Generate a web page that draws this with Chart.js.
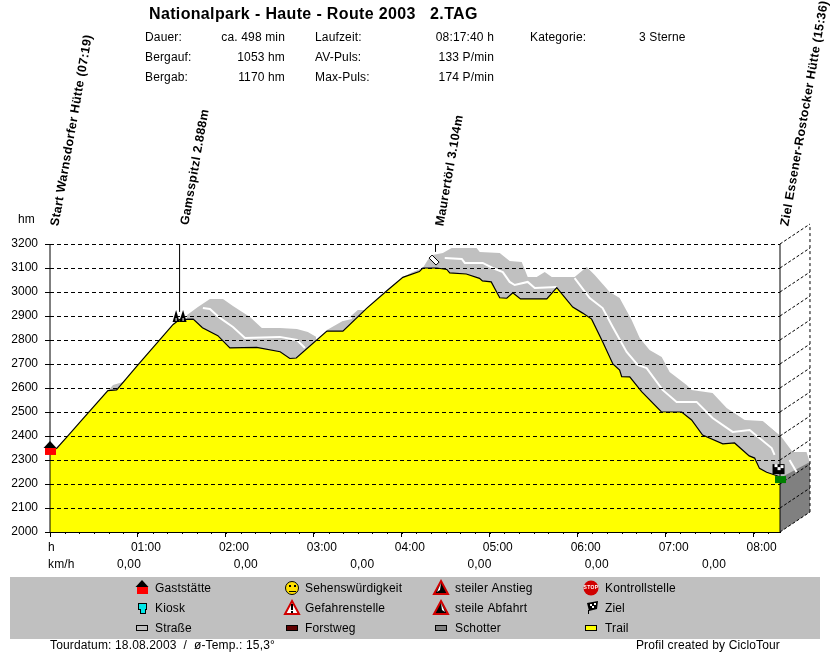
<!DOCTYPE html>
<html>
<head>
<meta charset="utf-8">
<title>Nationalpark - Haute - Route 2003</title>
<style>
  html, body { margin: 0; padding: 0; background: #fff; }
  #wrap { position: absolute; left: 0; top: 0; width: 830px; height: 652px; }
</style>
<script src="https://cdn.jsdelivr.net/npm/chart.js@4/dist/chart.umd.js"></script>
</head>
<body>
<div id="wrap"><canvas id="profil" width="830" height="652"></canvas></div>
<script>
// profile, minutes / hm
var profilMin = [0, 4.8, 11.6, 21.8, 39.5, 45.5, 60, 84, 88.6, 97.7, 104, 114.5, 122.7, 141, 157, 163.6, 168, 188.9, 199.8, 216, 229.8, 240.7, 252, 254.3, 263.9, 270.7, 272.7, 284, 293, 295, 301, 306.8, 311.6, 315.7, 321, 338.9, 345.7, 356.6, 363.4, 369.5, 377, 384, 388.6, 390, 395.5, 403.6, 417, 430.9, 437.7, 445.2, 459, 467, 477, 480.7, 484, 488.9, 498];
var profilHm = [2333, 2350, 2396, 2467, 2589, 2592, 2696, 2865, 2886, 2887, 2851, 2818, 2767, 2769, 2751, 2723, 2725, 2837, 2837, 2932, 3005, 3061, 3085, 3100, 3100, 3094, 3080, 3075, 3057, 3046, 3042, 2976, 2974, 2997, 2971, 2971, 3018, 2937, 2912, 2887, 2793, 2700, 2675, 2647, 2646, 2585, 2501, 2500, 2467, 2404, 2367, 2371, 2317, 2308, 2265, 2249, 2230];

// gravel band, top edge
var schotterA = [[39.5, 2587], [43, 2612], [49.8, 2625]];
var schotterB = [[93.4, 2904], [100.9, 2938], [109.1, 2971], [118, 2971], [124.8, 2942], [136.4, 2896], [144.5, 2850], [156.8, 2850], [168.4, 2846], [175.9, 2833], [182, 2812], [181.4, 2796]];
var schotterC = [[188.9, 2842], [204.5, 2896], [210, 2925], [214.8, 2925], [216, 2932]];
var schotterD = [[240.7, 3062], [247.5, 3083], [254.3, 3100], [257.7, 3133], [261.1, 3154], [268, 3163], [274, 3183], [291, 3183], [293.2, 3167], [306.8, 3163], [313.6, 3129], [321.8, 3125], [325.9, 3063], [332, 3063], [337.5, 3083], [342.3, 3063], [355.9, 3063], [357.9, 3063], [366.1, 3104], [371.6, 3071], [381.8, 3000], [388.6, 2975], [396.8, 2883], [402.3, 2808], [409, 2758], [417.3, 2729], [422.7, 2667], [434.3, 2612], [437.7, 2592], [452, 2579], [461.6, 2517], [473.9, 2467], [486.1, 2462], [499, 2396], [506.6, 2333], [516.1, 2333], [518.2, 2292]];

// white stripes inside the band
var weg1 = [[104.3, 2933], [109.1, 2929], [115.9, 2892], [124.8, 2854], [133, 2808], [156.8, 2813], [168.4, 2800], [173.9, 2767]];
var weg2 = [[199.8, 2883], [205.9, 2892]];
var weg3 = [[269.3, 3142], [280.9, 3138], [283, 3121], [295.2, 3121], [302, 3100], [308.9, 3083], [313.6, 3042], [317, 3029], [325.9, 3042], [330.7, 3017], [345.7, 3021]];
var weg4 = [[357.9, 3058], [368.2, 2975], [377, 2933], [383.9, 2854], [393.4, 2750], [400.9, 2696], [407, 2683], [417.9, 2592], [427.5, 2542], [441.1, 2542], [452, 2475], [465.7, 2417], [477.3, 2425], [492.3, 2350], [494.3, 2321]];
var weg5 = [[504.5, 2300], [509.3, 2250]];

var wandPts = [[498, 2000], [518.45, 2083], [518.45, 2292], [498, 2225]];
var tiefeMin = 20.45, tiefeHm = 83.3;

var yTicks = [2000, 2100, 2200, 2300, 2400, 2500, 2600, 2700, 2800, 2900, 3000, 3100, 3200];
var speedMin = [53.9, 133.6, 213, 293, 373, 453];
var speedVal = ["0,00", "0,00", "0,00", "0,00", "0,00", "0,00"];

var stats = [
  ["Dauer:", "ca. 498 min", "Laufzeit:", "08:17:40 h"],
  ["Bergauf:", "1053 hm", "AV-Puls:", "133 P/min"],
  ["Bergab:", "1170 hm", "Max-Puls:", "174 P/min"]
];

var legendNames = [
  ["Gaststätte", "Sehenswürdigkeit", "steiler Anstieg", "Kontrollstelle"],
  ["Kiosk", "Gefahrenstelle", "steile Abfahrt", "Ziel"],
  ["Straße", "Forstweg", "Schotter", "Trail"]
];

function xy(list) {
  return list.map(function (p) { return { x: p[0], y: p[1] }; });
}

var profilPts = profilMin.map(function (m, i) { return { x: m, y: profilHm[i] }; });

function band(list) {
  return { data: xy(list), borderWidth: 0, pointRadius: 0, backgroundColor: "#c0c0c0", fill: "start", clip: false, order: 9 };
}
function stripe(list) {
  return { data: xy(list), borderColor: "#fff", borderWidth: 2, pointRadius: 0, fill: false, clip: false, order: 6 };
}
function thin(list, dash) {
  return { data: xy(list), borderColor: "#000", borderWidth: 1, borderDash: dash || [], pointRadius: 0, fill: false, clip: false, order: 2 };
}

var datasets = [
  band(schotterA), band(schotterB), band(schotterC), band(schotterD),
  stripe(weg1), stripe(weg2), stripe(weg3), stripe(weg4), stripe(weg5),
  { data: profilPts, borderColor: "#000", borderWidth: 1.2, pointRadius: 0, backgroundColor: "#ffff00", fill: "start", order: 4 },
  thin([[0, 2000], [0, 3200]]),
  thin([[498, 2000], [498, 3200]]),
  thin([[88.4, 2917], [88.4, 3200]]),
  thin([[263, 3167], [263, 3200]]),
  thin([[518.45, 2083], [518.45, 3283.3]], [3, 3])
];
yTicks.forEach(function (t) {
  datasets.push(thin([[498, t], [498 + tiefeMin, t + tiefeHm]], [3, 2]));
});

function text(ctx, s, x, y, font, align, col) {
  ctx.font = font || "12px 'Liberation Sans'";
  ctx.letterSpacing = font ? "0.35px" : "0.15px";
  ctx.textAlign = align || "left";
  ctx.textBaseline = "middle";
  ctx.fillStyle = col || "#000";
  ctx.fillText(s, x, y);
}

function rotText(ctx, s, x, y) {
  ctx.save();
  ctx.translate(x, y);
  ctx.rotate(-80 * Math.PI / 180);
  text(ctx, s, 0, 0, "bold 12.4px 'Liberation Sans'");
  ctx.restore();
}

function poly(ctx, pts, fill, stroke, lw) {
  ctx.beginPath();
  pts.forEach(function (p, i) {
    if (i === 0) ctx.moveTo(p[0], p[1]);
    else ctx.lineTo(p[0], p[1]);
  });
  ctx.closePath();
  if (fill) { ctx.fillStyle = fill; ctx.fill(); }
  if (stroke) { ctx.strokeStyle = stroke; ctx.lineWidth = lw || 1; ctx.stroke(); }
}

function tri(ctx, x, y, fill) {
  poly(ctx, [[x, y - 7], [x + 7, y + 6], [x - 7, y + 6]], fill, "#d00000", 2);
}

function house(ctx, x, y) {
  ctx.fillStyle = "#ff0000";
  ctx.fillRect(x - 5, y - 1, 11, 7);
  poly(ctx, [[x, y - 8], [x + 6.5, y - 1], [x - 6.5, y - 1]], "#000");
}

function flag(ctx, x, y) {
  ctx.fillStyle = "#000";
  ctx.fillRect(x - 6, y - 5, 12, 10);
  ctx.fillStyle = "#fff";
  ctx.fillRect(x - 4, y - 5, 3, 3);
  ctx.fillRect(x + 2, y - 4, 3, 3);
  ctx.fillRect(x - 1, y - 2, 3, 3);
}

function swatch(ctx, x, y, col) {
  ctx.fillStyle = col;
  ctx.strokeStyle = "#000";
  ctx.lineWidth = 1;
  ctx.fillRect(x - 5.5, y - 2.5, 11, 5);
  ctx.strokeRect(x - 5.5, y - 2.5, 11, 5);
}

// the depth wall and the end of the band lie outside the chart area
var aussen = {
  id: "aussen",
  beforeDatasetsDraw: function (chart) {
    var ctx = chart.ctx, sx = chart.scales.x, sy = chart.scales.y;
    function px(p) { return [sx.getPixelForValue(p[0]), sy.getPixelForValue(p[1])]; }
    ctx.save();
    var ende = schotterD.slice(-5);
    var rand = [[ende[0][0], 2000]].concat(ende, [[518.2, 2083], [498, 2000]]);
    poly(ctx, rand.map(px), "#c0c0c0");
    poly(ctx, wandPts.map(px), "#808080");
    ctx.restore();
  }
};

var deko = {
  id: "deko",
  afterDatasetsDraw: function (chart) {
    var ctx = chart.ctx, sx = chart.scales.x, sy = chart.scales.y;
    ctx.save();

    // minor ticks on the time axis
    ctx.strokeStyle = "#000";
    ctx.lineWidth = 1;
    for (var m = 0; m <= 490; m += 10) {
      var px = Math.round(sx.getPixelForValue(m)) + 0.5;
      ctx.beginPath();
      ctx.moveTo(px, sy.bottom);
      ctx.lineTo(px, sy.bottom + 2);
      ctx.stroke();
    }

    // way points on the profile
    house(ctx, sx.getPixelForValue(0), sy.getPixelForValue(2346));
    var gx = sx.getPixelForValue(88.4), gy = sy.getPixelForValue(2900);
    poly(ctx, [[gx - 7, gy + 6], [gx - 3.5, gy - 6], [gx, gy + 6]], "#000");
    poly(ctx, [[gx - 0.5, gy + 6], [gx + 3.5, gy - 6], [gx + 7, gy + 6]], "#000");
    ctx.fillStyle = "#fff";
    ctx.fillRect(gx - 4, gy + 2, 1, 3);
    ctx.fillRect(gx + 3, gy + 2, 1, 3);
    var dx = sx.getPixelForValue(262), dy = sy.getPixelForValue(3133);
    poly(ctx, [[dx - 5, dy - 2], [dx - 2, dy - 5], [dx + 5, dy + 2], [dx + 2, dy + 5]], "#fff", "#000", 1);
    flag(ctx, sx.getPixelForValue(497), sy.getPixelForValue(2262));
    ctx.fillStyle = "#008000";
    ctx.fillRect(sx.getPixelForValue(498) - 5, sy.getPixelForValue(2233), 11, 7);

    // header
    text(ctx, "Nationalpark - Haute - Route 2003   2.TAG", 149, 15, "bold 16px 'Liberation Sans'");
    stats.forEach(function (r, i) {
      var y = 38 + i * 20;
      text(ctx, r[0], 145, y);
      text(ctx, r[1], 285, y, null, "right");
      text(ctx, r[2], 315, y);
      text(ctx, r[3], 494, y, null, "right");
    });
    text(ctx, "Kategorie:", 530, 38);
    text(ctx, "3 Sterne", 639, 38);

    // way point names
    rotText(ctx, "Start Warnsdorfer Hütte (07:19)", 55, 226);
    rotText(ctx, "Gamsspitzl 2.888m", 185, 225);
    rotText(ctx, "Maurertörl 3.104m", 440, 226);
    rotText(ctx, "Ziel Essener-Rostocker Hütte (15:36)", 785, 226);

    // axis captions
    text(ctx, "hm", 18, 220);
    text(ctx, "h", 48, 548);
    text(ctx, "km/h", 48, 565);
    speedMin.forEach(function (m, i) {
      text(ctx, speedVal[i], sx.getPixelForValue(m), 565, null, "center");
    });

    // legend box
    ctx.fillStyle = "#c0c0c0";
    ctx.fillRect(10, 577, 810, 62);
    var textX = [155, 305, 455, 605];
    legendNames.forEach(function (r, i) {
      r.forEach(function (s, j) {
        text(ctx, s, textX[j], 589 + i * 20);
      });
    });
    house(ctx, 142, 588);
    ctx.fillStyle = "#000";
    ctx.fillRect(138, 603, 9, 7);
    ctx.fillRect(140, 609, 6, 5);
    ctx.fillStyle = "#00e8e8";
    ctx.fillRect(139, 604, 7, 5);
    ctx.fillRect(141, 609, 4, 4);
    ctx.beginPath();
    ctx.arc(292, 588, 6.5, 0, Math.PI * 2);
    ctx.fillStyle = "#ffe000";
    ctx.strokeStyle = "#000";
    ctx.lineWidth = 1;
    ctx.fill();
    ctx.stroke();
    ctx.fillStyle = "#000";
    ctx.fillRect(289, 585, 2, 2);
    ctx.fillRect(294, 585, 2, 2);
    ctx.fillRect(289, 591, 7, 1);
    tri(ctx, 292, 608, "#fff");
    ctx.fillStyle = "#000";
    ctx.fillRect(291, 604, 2, 6);
    ctx.fillRect(291, 611, 2, 2);
    tri(ctx, 441, 588, "#000");
    poly(ctx, [[441, 583], [437, 592], [440, 590]], "#fff");
    tri(ctx, 441, 608, "#000");
    poly(ctx, [[441, 603], [445, 612], [442, 610]], "#fff");
    ctx.fillStyle = "#d00000";
    ctx.beginPath();
    ctx.arc(591, 588, 7.5, 0, Math.PI * 2);
    ctx.fill();
    text(ctx, "STOP", 591, 588, "bold 5px 'Liberation Sans'", "center", "#fff");
    poly(ctx, [[587, 603], [598, 601], [597, 609], [589, 611]], "#000");
    ctx.fillStyle = "#fff";
    ctx.fillRect(590, 604, 2, 2);
    ctx.fillRect(594, 603, 2, 2);
    ctx.fillRect(592, 606, 2, 2);
    ctx.fillStyle = "#000";
    ctx.fillRect(588, 610, 1, 4);
    swatch(ctx, 142, 628, "#c0c0c0");
    swatch(ctx, 292, 628, "#600000");
    swatch(ctx, 441, 628, "#808080");
    swatch(ctx, 591, 628, "#ffff00");

    // footer
    text(ctx, "Tourdatum: 18.08.2003  /  ø-Temp.: 15,3°", 50, 646);
    text(ctx, "Profil created by CicloTour", 780, 646, null, "right");
    ctx.restore();
  }
};

new Chart(document.getElementById("profil").getContext("2d"), {
  type: "line",
  data: { datasets: datasets },
  plugins: [aussen, deko],
  options: {
    responsive: false,
    animation: false,
    parsing: false,
    normalized: true,
    layout: { padding: { top: 244, right: 50, bottom: 100, left: 0 } },
    plugins: { legend: { display: false }, tooltip: { enabled: false } },
    elements: { line: { tension: 0 } },
    scales: {
      x: {
        type: "linear",
        min: 0,
        max: 498,
        afterFit: function (s) { s.height = 20; },
        grid: { drawOnChartArea: false, color: "#000", tickLength: 5 },
        border: { color: "#000" },
        ticks: {
          stepSize: 60,
          includeBounds: false,
          maxRotation: 0,
          autoSkip: false,
          padding: 3,
          labelOffset: 8,
          color: "#000",
          font: { family: "Liberation Sans", size: 12 },
          callback: function (v) {
            if (v === 0) return "";
            return "0" + (v / 60) + ":00";
          }
        }
      },
      y: {
        min: 2000,
        max: 3200,
        afterFit: function (s) { s.width = 50; },
        grid: { color: "#000", tickLength: 5, z: 1 },
        border: { display: false, dash: [4, 3] },
        ticks: {
          stepSize: 100,
          padding: 7,
          color: "#000",
          font: { family: "Liberation Sans", size: 12 },
          callback: function (v) { return String(v); }
        }
      }
    }
  }
});
</script>
</body>
</html>
